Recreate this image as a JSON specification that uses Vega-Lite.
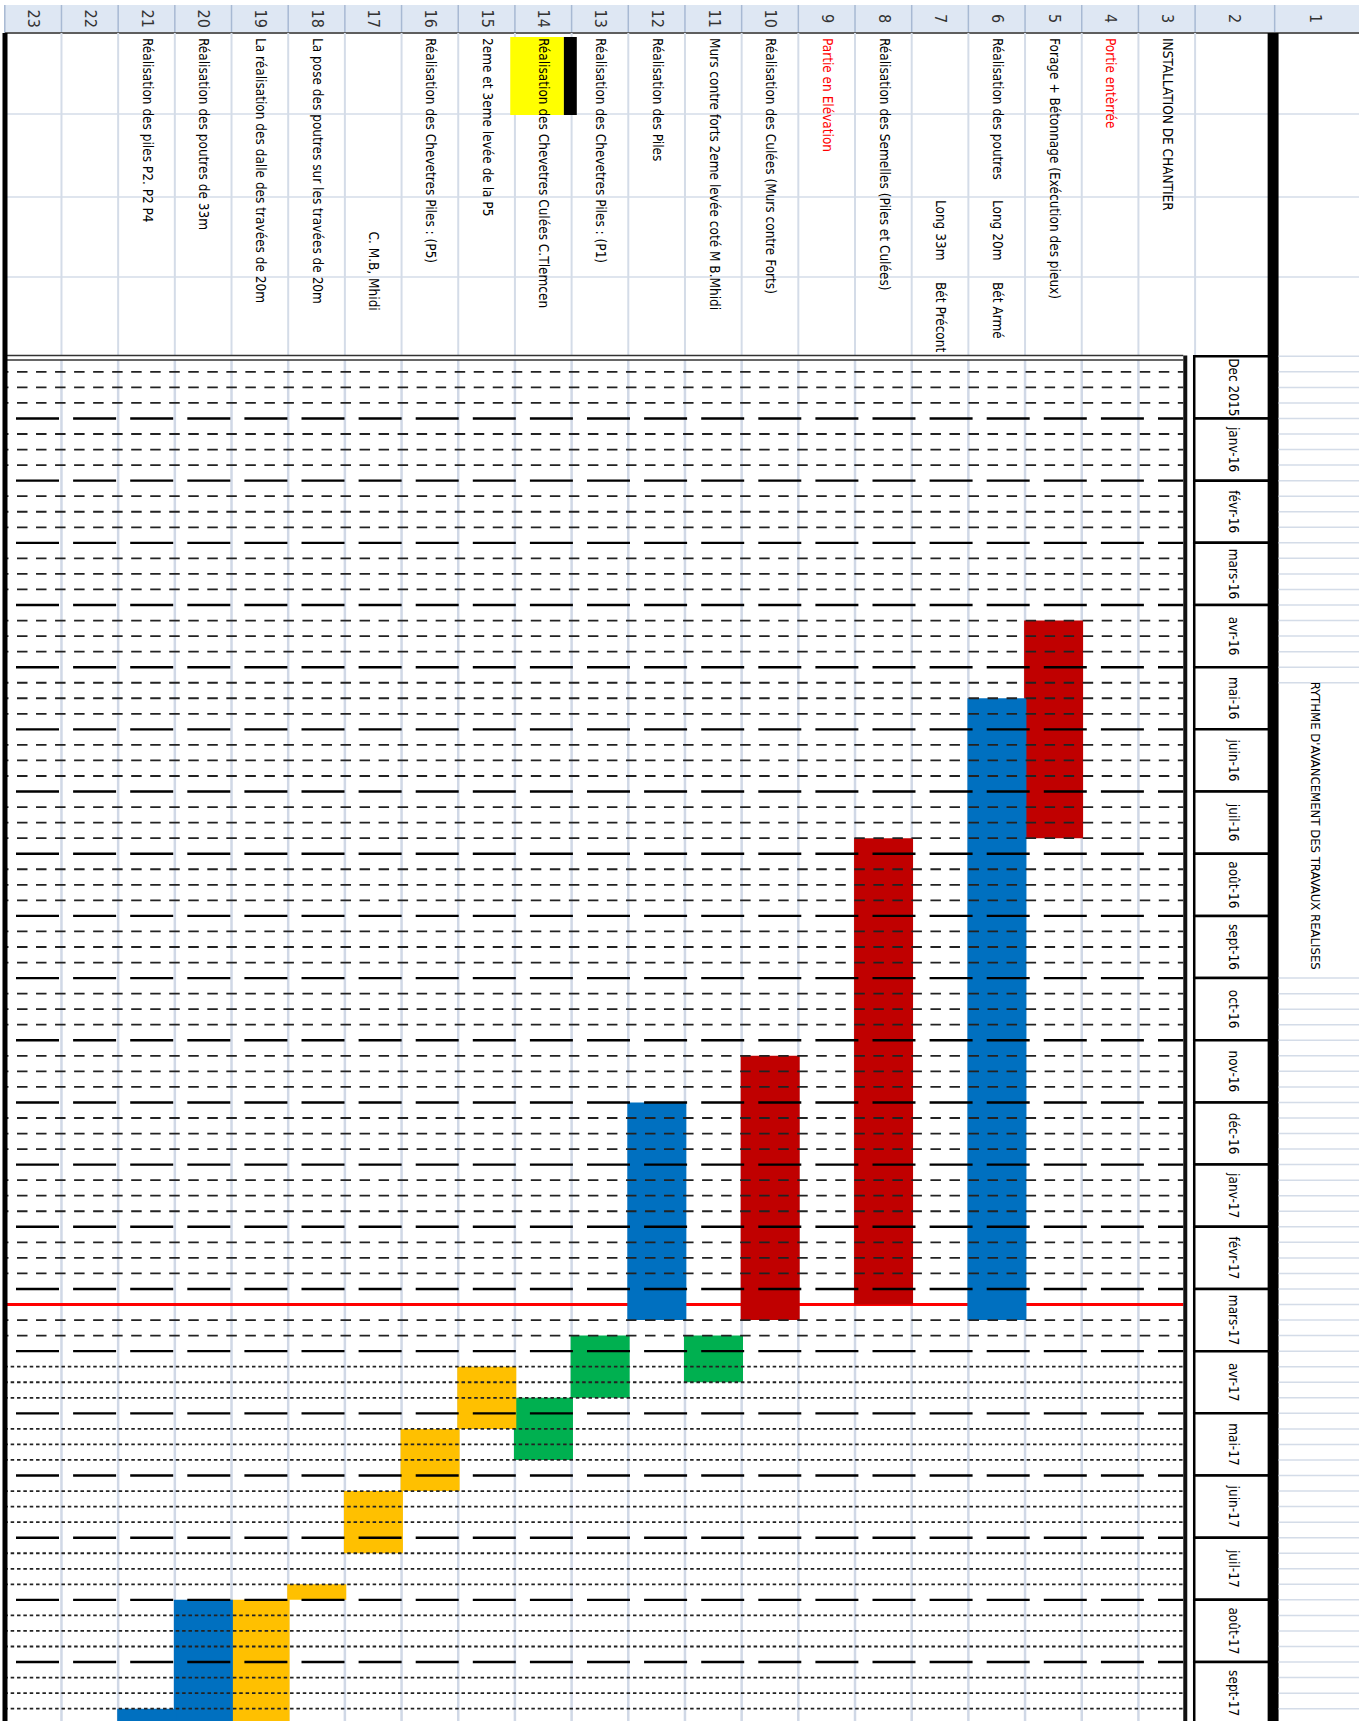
{
"$schema": "https://vega.github.io/schema/vega-lite/v6.json",
"width": 1364, "height": 1721, "autosize": {"type": "none"}, "padding": 0,
"background": "#ffffff",
"config": {"view": {"stroke": null}, "axis": {"disable": true}, "legend": {"disable": true},
  "text": {"font": "Liberation Sans Narrow, DejaVu Sans Condensed, sans-serif"}},
"resolve": {"scale": {"color": "independent"}},
"datasets": {
 "lignes": [{"row":1},{"row":2},{"row":3},{"row":4},{"row":5},{"row":6},{"row":7},{"row":8},{"row":9},{"row":10},{"row":11},{"row":12},{"row":13},{"row":14},{"row":15},{"row":16},{"row":17},{"row":18},{"row":19},{"row":20},{"row":21},{"row":22},{"row":23}],
 "taches": [
  {"row":3,"texte":"INSTALLATION DE CHANTIER","col":"A","niveau":"tache"},
  {"row":4,"texte":"Portie entèrrée","col":"A","niveau":"partie"},
  {"row":5,"texte":"Forage + Bétonnage (Exécution des pieux)","col":"A","niveau":"tache"},
  {"row":6,"texte":"Réalisation des poutres","col":"A","niveau":"tache"},
  {"row":6,"texte":"Long 20m","col":"C","niveau":"tache"},
  {"row":6,"texte":"Bét Armé","col":"D","niveau":"tache"},
  {"row":7,"texte":"Long 33m","col":"C","niveau":"tache"},
  {"row":7,"texte":"Bét Précont","col":"D","niveau":"tache"},
  {"row":8,"texte":"Réalisation des Semelles (Piles et Culées)","col":"A","niveau":"tache"},
  {"row":9,"texte":"Partie en Elévation","col":"A","niveau":"partie"},
  {"row":10,"texte":"Réalisation des Culées (Murs contre Forts)","col":"A","niveau":"tache"},
  {"row":11,"texte":"Murs contre forts 2eme levée coté M B.Mhidi","col":"A","niveau":"tache"},
  {"row":12,"texte":"Réalisation des Piles","col":"A","niveau":"tache"},
  {"row":13,"texte":"Réalisation des Chevetres Piles :  (P1)","col":"A","niveau":"tache"},
  {"row":14,"texte":"Réalisation des Chevetres Culées  C.Tlemcen","col":"A","niveau":"tache"},
  {"row":15,"texte":"2eme et 3eme levée de la P5","col":"A","niveau":"tache"},
  {"row":16,"texte":"Réalisation des Chevetres Piles :  (P5)","col":"A","niveau":"tache"},
  {"row":17,"texte":"C. M.B, Mhidi","col":"CD","niveau":"tache"},
  {"row":18,"texte":"La pose des poutres sur les travées de 20m","col":"A","niveau":"tache"},
  {"row":19,"texte":"La réalisation des dalle des travées de 20m","col":"A","niveau":"tache"},
  {"row":20,"texte":"Réalisation des poutres de 33m","col":"A","niveau":"tache"},
  {"row":21,"texte":"Réalisation des piles P2. P2 P4","col":"A","niveau":"tache"}
 ],
 "barres": [
  {"row":5,"debut":4.25,"fin":7.75,"serie":"s1"},
  {"row":6,"debut":5.5,"fin":15.5,"serie":"s2"},
  {"row":8,"debut":7.75,"fin":15.25,"serie":"s1"},
  {"row":10,"debut":11.25,"fin":15.5,"serie":"s1"},
  {"row":11,"debut":15.75,"fin":16.5,"serie":"s3"},
  {"row":12,"debut":12,"fin":15.5,"serie":"s2"},
  {"row":13,"debut":15.75,"fin":16.75,"serie":"s3"},
  {"row":14,"debut":16.75,"fin":17.75,"serie":"s3"},
  {"row":15,"debut":16.25,"fin":17.25,"serie":"s4"},
  {"row":16,"debut":17.25,"fin":18.25,"serie":"s4"},
  {"row":17,"debut":18.25,"fin":19.25,"serie":"s4"},
  {"row":18,"debut":19.75,"fin":20,"serie":"s4"},
  {"row":19,"debut":20,"fin":22,"serie":"s4"},
  {"row":20,"debut":20,"fin":22,"serie":"s2"},
  {"row":21,"debut":21.75,"fin":22,"serie":"s2"}
 ],
 "mois": [
  {"mois":"Dec 2015","debut":0,"fin":1},{"mois":"janv-16","debut":1,"fin":2},{"mois":"févr-16","debut":2,"fin":3},
  {"mois":"mars-16","debut":3,"fin":4},{"mois":"avr-16","debut":4,"fin":5},{"mois":"mai-16","debut":5,"fin":6},
  {"mois":"juin-16","debut":6,"fin":7},{"mois":"juil-16","debut":7,"fin":8},{"mois":"août-16","debut":8,"fin":9},
  {"mois":"sept-16","debut":9,"fin":10},{"mois":"oct-16","debut":10,"fin":11},{"mois":"nov-16","debut":11,"fin":12},
  {"mois":"déc-16","debut":12,"fin":13},{"mois":"janv-17","debut":13,"fin":14},{"mois":"févr-17","debut":14,"fin":15},
  {"mois":"mars-17","debut":15,"fin":16},{"mois":"avr-17","debut":16,"fin":17},{"mois":"mai-17","debut":17,"fin":18},
  {"mois":"juin-17","debut":18,"fin":19},{"mois":"juil-17","debut":19,"fin":20},{"mois":"août-17","debut":20,"fin":21},
  {"mois":"sept-17","debut":21,"fin":22}
 ]
},
"layer": [
 {"data":{"values":[{}]},"mark":{"type":"rect","fill":"#DEE7F3"},
  "encoding":{"x":{"datum":23.5,"type":"quantitative","scale":{"domain":[-0.388,23.5],"reverse":true,"nice":false,"zero":false}},"x2":{"datum":-0.388},
   "y":{"datum":-5.65,"type":"quantitative","scale":{"domain":[-5.73,21.948],"reverse":true,"nice":false,"zero":false}},"y2":{"datum":-5.2}}},
 {"data":{"name":"lignes"},"transform":[{"filter":"datum.row >= 2"}],"mark":{"type":"rule","stroke":"#A7B9D3","strokeWidth":1.5,"xOffset":-28.55},
  "encoding":{"x":{"field":"row","type":"quantitative","scale":{"domain":[-0.388,23.5],"reverse":true,"nice":false,"zero":false}},
   "y":{"datum":-5.65,"type":"quantitative","scale":{"domain":[-5.73,21.948],"reverse":true,"nice":false,"zero":false}},"y2":{"datum":-5.2}}},
 {"data":{"values":[{}]},"mark":{"type":"rule","stroke":"#A7B9D3","strokeWidth":1.5},
  "encoding":{"x":{"datum":1.1,"type":"quantitative","scale":{"domain":[-0.388,23.5],"reverse":true,"nice":false,"zero":false}},
   "y":{"datum":-5.65,"type":"quantitative","scale":{"domain":[-5.73,21.948],"reverse":true,"nice":false,"zero":false}},"y2":{"datum":-5.2}}},
 {"data":{"values":[{}]},"mark":{"type":"rule","stroke":"#5E5E5E","strokeWidth":2},
  "encoding":{"x":{"datum":23.5,"type":"quantitative","scale":{"domain":[-0.388,23.5],"reverse":true,"nice":false,"zero":false}},"x2":{"datum":-0.388},
   "y":{"datum":-5.2,"type":"quantitative","scale":{"domain":[-5.73,21.948],"reverse":true,"nice":false,"zero":false}}}},
 {"data":{"name":"lignes"},"transform":[{"filter":"datum.row >= 3"}],"mark":{"type":"text","angle":90,"align":"center","baseline":"middle","fontSize":16,"color":"#333333"},
  "encoding":{"x":{"field":"row","type":"quantitative","scale":{"domain":[-0.388,23.5],"reverse":true,"nice":false,"zero":false}},
   "y":{"datum":-5.43,"type":"quantitative","scale":{"domain":[-5.73,21.948],"reverse":true,"nice":false,"zero":false}},"text":{"field":"row","type":"nominal"}}},
 {"data":{"name":"lignes"},"transform":[{"filter":"datum.row == 2"}],"mark":{"type":"text","angle":90,"align":"center","baseline":"middle","fontSize":16,"color":"#333333","xOffset":10},
  "encoding":{"x":{"field":"row","type":"quantitative","scale":{"domain":[-0.388,23.5],"reverse":true,"nice":false,"zero":false}},
   "y":{"datum":-5.43,"type":"quantitative","scale":{"domain":[-5.73,21.948],"reverse":true,"nice":false,"zero":false}},"text":{"field":"row","type":"nominal"}}},
 {"data":{"name":"lignes"},"transform":[{"filter":"datum.row == 1"}],"mark":{"type":"text","angle":90,"align":"center","baseline":"middle","fontSize":16,"color":"#333333","xOffset":35},
  "encoding":{"x":{"field":"row","type":"quantitative","scale":{"domain":[-0.388,23.5],"reverse":true,"nice":false,"zero":false}},
   "y":{"datum":-5.43,"type":"quantitative","scale":{"domain":[-5.73,21.948],"reverse":true,"nice":false,"zero":false}},"text":{"field":"row","type":"nominal"}}},
 {"data":{"name":"lignes"},"transform":[{"filter":"datum.row >= 2"}],"mark":{"type":"rule","stroke":"#D4DCE8","strokeWidth":2,"xOffset":-28.55},
  "encoding":{"x":{"field":"row","type":"quantitative","scale":{"domain":[-0.388,23.5],"reverse":true,"nice":false,"zero":false}},
   "y":{"datum":-5.2,"type":"quantitative","scale":{"domain":[-5.73,21.948],"reverse":true,"nice":false,"zero":false}},"y2":{"datum":-0.013}}},
 {"data":{"values":[{}]},"mark":{"type":"rule","stroke":"#D4DCE8","strokeWidth":1.5},
  "encoding":{"x":{"datum":23.5,"type":"quantitative","scale":{"domain":[-0.388,23.5],"reverse":true,"nice":false,"zero":false}},"x2":{"datum":-0.388},
   "y":{"datum":-3.897,"type":"quantitative","scale":{"domain":[-5.73,21.948],"reverse":true,"nice":false,"zero":false}}}},
 {"data":{"values":[{}]},"mark":{"type":"rule","stroke":"#D4DCE8","strokeWidth":1.5},
  "encoding":{"x":{"datum":23.5,"type":"quantitative","scale":{"domain":[-0.388,23.5],"reverse":true,"nice":false,"zero":false}},"x2":{"datum":-0.388},
   "y":{"datum":-2.562,"type":"quantitative","scale":{"domain":[-5.73,21.948],"reverse":true,"nice":false,"zero":false}}}},
 {"data":{"values":[{}]},"mark":{"type":"rule","stroke":"#D4DCE8","strokeWidth":1.5},
  "encoding":{"x":{"datum":23.5,"type":"quantitative","scale":{"domain":[-0.388,23.5],"reverse":true,"nice":false,"zero":false}},"x2":{"datum":-0.388},
   "y":{"datum":-1.275,"type":"quantitative","scale":{"domain":[-5.73,21.948],"reverse":true,"nice":false,"zero":false}}}},
 {"data":{"values":[{}]},"mark":{"type":"rect","fill":"#FFFF00"},
  "encoding":{"x":{"datum":14.586,"type":"quantitative","scale":{"domain":[-0.388,23.5],"reverse":true,"nice":false,"zero":false}},"x2":{"datum":13.64},
   "y":{"datum":-5.135,"type":"quantitative","scale":{"domain":[-5.73,21.948],"reverse":true,"nice":false,"zero":false}},"y2":{"datum":-3.881}}},
 {"data":{"values":[{}]},"mark":{"type":"rect","fill":"#000000"},
  "encoding":{"x":{"datum":13.64,"type":"quantitative","scale":{"domain":[-0.388,23.5],"reverse":true,"nice":false,"zero":false}},"x2":{"datum":13.412},
   "y":{"datum":-5.135,"type":"quantitative","scale":{"domain":[-5.73,21.948],"reverse":true,"nice":false,"zero":false}},"y2":{"datum":-3.881}}},
 {"data":{"name":"taches"},"transform":[{"filter":"datum.col == 'A'"}],"mark":{"type":"text","angle":90,"align":"left","baseline":"middle","fontSize":13.5},
  "encoding":{"x":{"field":"row","type":"quantitative","scale":{"domain":[-0.388,23.5],"reverse":true,"nice":false,"zero":false}},
   "y":{"datum":-5.119,"type":"quantitative","scale":{"domain":[-5.73,21.948],"reverse":true,"nice":false,"zero":false}},
   "text":{"field":"texte","type":"nominal"},
   "color":{"field":"niveau","type":"nominal","scale":{"domain":["partie","tache"],"range":["#FF0000","#000000"]},"legend":null}}},
 {"data":{"name":"taches"},"transform":[{"filter":"datum.col == 'C'"}],"mark":{"type":"text","angle":90,"align":"left","baseline":"middle","fontSize":13.5},
  "encoding":{"x":{"field":"row","type":"quantitative","scale":{"domain":[-0.388,23.5],"reverse":true,"nice":false,"zero":false}},
   "y":{"datum":-2.514,"type":"quantitative","scale":{"domain":[-5.73,21.948],"reverse":true,"nice":false,"zero":false}},
   "text":{"field":"texte","type":"nominal"},
   "color":{"field":"niveau","type":"nominal","scale":{"domain":["partie","tache"],"range":["#FF0000","#000000"]},"legend":null}}},
 {"data":{"name":"taches"},"transform":[{"filter":"datum.col == 'D'"}],"mark":{"type":"text","angle":90,"align":"left","baseline":"middle","fontSize":13.5},
  "encoding":{"x":{"field":"row","type":"quantitative","scale":{"domain":[-0.388,23.5],"reverse":true,"nice":false,"zero":false}},
   "y":{"datum":-1.195,"type":"quantitative","scale":{"domain":[-5.73,21.948],"reverse":true,"nice":false,"zero":false}},
   "text":{"field":"texte","type":"nominal"},
   "color":{"field":"niveau","type":"nominal","scale":{"domain":["partie","tache"],"range":["#FF0000","#000000"]},"legend":null}}},
 {"data":{"name":"taches"},"transform":[{"filter":"datum.col == 'CD'"}],"mark":{"type":"text","angle":90,"align":"center","baseline":"middle","fontSize":13.5},
  "encoding":{"x":{"field":"row","type":"quantitative","scale":{"domain":[-0.388,23.5],"reverse":true,"nice":false,"zero":false}},
   "y":{"datum":-1.37,"type":"quantitative","scale":{"domain":[-5.73,21.948],"reverse":true,"nice":false,"zero":false}},
   "text":{"field":"texte","type":"nominal"},
   "color":{"field":"niveau","type":"nominal","scale":{"domain":["partie","tache"],"range":["#FF0000","#000000"]},"legend":null}}},
 {"data":{"name":"lignes"},"transform":[{"filter":"datum.row >= 2"}],"mark":{"type":"rule","stroke":"#D0D8E6","strokeWidth":2.5,"xOffset":-28.55},
  "encoding":{"x":{"field":"row","type":"quantitative","scale":{"domain":[-0.388,23.5],"reverse":true,"nice":false,"zero":false}},
   "y":{"datum":0.06,"type":"quantitative","scale":{"domain":[-5.73,21.948],"reverse":true,"nice":false,"zero":false}},"y2":{"datum":22.2}}},
 {"data":{"values":[{}]},"mark":{"type":"rule","stroke":"#FF0000","strokeWidth":3},
  "encoding":{"x":{"datum":23.5,"type":"quantitative","scale":{"domain":[-0.388,23.5],"reverse":true,"nice":false,"zero":false}},"x2":{"datum":2.712},
   "y":{"datum":15.25,"type":"quantitative","scale":{"domain":[-5.73,21.948],"reverse":true,"nice":false,"zero":false}}}},
 {"data":{"name":"barres"},"mark":{"type":"bar","width":59,"orient":"vertical"},
  "encoding":{"x":{"field":"row","type":"quantitative","scale":{"domain":[-0.388,23.5],"reverse":true,"nice":false,"zero":false}},
   "y":{"field":"debut","type":"quantitative","scale":{"domain":[-5.73,21.948],"reverse":true,"nice":false,"zero":false}},"y2":{"field":"fin"},
   "color":{"field":"serie","type":"nominal","scale":{"domain":["s1","s2","s3","s4"],"range":["#C00000","#0070C0","#00B050","#FFC000"]},"legend":null}}},
 {"data":{"name":"mois"},"transform":[{"filter":"datum.debut > 0"}],"mark":{"type":"rule","stroke":"#000000","strokeWidth":2.4,"strokeDash":[43,14.1],"strokeDashOffset":46.1},
  "encoding":{"x":{"datum":23.5,"type":"quantitative","scale":{"domain":[-0.388,23.5],"reverse":true,"nice":false,"zero":false}},"x2":{"datum":2.712},
   "y":{"field":"debut","type":"quantitative","scale":{"domain":[-5.73,21.948],"reverse":true,"nice":false,"zero":false}}}},
 {"data":{"name":"mois"},"transform":[{"filter":"datum.debut != 15"}],"mark":{"type":"rule","stroke":"#222222","strokeWidth":1.8,"strokeDashOffset":7.03,"yOffset":15.545},
  "encoding":{"x":{"datum":23.5,"type":"quantitative","scale":{"domain":[-0.388,23.5],"reverse":true,"nice":false,"zero":false}},"x2":{"datum":2.712},
   "y":{"field":"debut","type":"quantitative","scale":{"domain":[-5.73,21.948],"reverse":true,"nice":false,"zero":false}},
   "strokeDash":{"condition":{"test":"datum.debut >= 16","value":[3.5,2.85]},"value":[10.5,8.53]}}},
 {"data":{"name":"mois"},"mark":{"type":"rule","stroke":"#222222","strokeWidth":1.8,"strokeDashOffset":7.03,"yOffset":31.09},
  "encoding":{"x":{"datum":23.5,"type":"quantitative","scale":{"domain":[-0.388,23.5],"reverse":true,"nice":false,"zero":false}},"x2":{"datum":2.712},
   "y":{"field":"debut","type":"quantitative","scale":{"domain":[-5.73,21.948],"reverse":true,"nice":false,"zero":false}},
   "strokeDash":{"condition":{"test":"datum.debut >= 16","value":[3.5,2.85]},"value":[10.5,8.53]}}},
 {"data":{"name":"mois"},"mark":{"type":"rule","stroke":"#222222","strokeWidth":1.8,"strokeDashOffset":7.03,"yOffset":46.635},
  "encoding":{"x":{"datum":23.5,"type":"quantitative","scale":{"domain":[-0.388,23.5],"reverse":true,"nice":false,"zero":false}},"x2":{"datum":2.712},
   "y":{"field":"debut","type":"quantitative","scale":{"domain":[-5.73,21.948],"reverse":true,"nice":false,"zero":false}},
   "strokeDash":{"condition":{"test":"datum.debut >= 16","value":[3.5,2.85]},"value":[10.5,8.53]}}},
 {"data":{"values":[{}]},"mark":{"type":"rule","stroke":"#333333","strokeWidth":1.5},
  "encoding":{"x":{"datum":23.5,"type":"quantitative","scale":{"domain":[-0.388,23.5],"reverse":true,"nice":false,"zero":false}},"x2":{"datum":2.712},
   "y":{"datum":-0.013,"type":"quantitative","scale":{"domain":[-5.73,21.948],"reverse":true,"nice":false,"zero":false}}}},
 {"data":{"values":[{}]},"mark":{"type":"rule","stroke":"#333333","strokeWidth":1.5},
  "encoding":{"x":{"datum":23.5,"type":"quantitative","scale":{"domain":[-0.388,23.5],"reverse":true,"nice":false,"zero":false}},"x2":{"datum":2.712},
   "y":{"datum":0.06,"type":"quantitative","scale":{"domain":[-5.73,21.948],"reverse":true,"nice":false,"zero":false}}}},
 {"data":{"values":[{}]},"mark":{"type":"rule","stroke":"#111111","strokeWidth":4},
  "encoding":{"x":{"datum":2.677,"type":"quantitative","scale":{"domain":[-0.388,23.5],"reverse":true,"nice":false,"zero":false}},
   "y":{"datum":-0.013,"type":"quantitative","scale":{"domain":[-5.73,21.948],"reverse":true,"nice":false,"zero":false}},"y2":{"datum":22.2}}},
 {"data":{"name":"mois"},"mark":{"type":"rect","fill":"#FFFFFF","stroke":"#000000","strokeWidth":2.5},
  "encoding":{"x":{"datum":2.519,"type":"quantitative","scale":{"domain":[-0.388,23.5],"reverse":true,"nice":false,"zero":false}},"x2":{"datum":1.136},
   "y":{"field":"debut","type":"quantitative","scale":{"domain":[-5.73,21.948],"reverse":true,"nice":false,"zero":false}},"y2":{"field":"fin"}}},
 {"data":{"name":"mois"},"mark":{"type":"text","angle":90,"align":"center","baseline":"middle","fontSize":13.5,"color":"#000000","yOffset":31.09},
  "encoding":{"x":{"datum":1.836,"type":"quantitative","scale":{"domain":[-0.388,23.5],"reverse":true,"nice":false,"zero":false}},
   "y":{"field":"debut","type":"quantitative","scale":{"domain":[-5.73,21.948],"reverse":true,"nice":false,"zero":false}},
   "text":{"field":"mois","type":"nominal"}}},
 {"data":{"values":[{}]},"mark":{"type":"rect","fill":"#000000"},
  "encoding":{"x":{"datum":1.224,"type":"quantitative","scale":{"domain":[-0.388,23.5],"reverse":true,"nice":false,"zero":false}},"x2":{"datum":1.031},
   "y":{"datum":-5.2,"type":"quantitative","scale":{"domain":[-5.73,21.948],"reverse":true,"nice":false,"zero":false}},"y2":{"datum":22.2}}},
 {"data":{"name":"mois"},"transform":[{"filter":"datum.debut < 6 || datum.debut > 9"}],"mark":{"type":"rule","stroke":"#D4DCE8","strokeWidth":1.5},
  "encoding":{"x":{"datum":1.031,"type":"quantitative","scale":{"domain":[-0.388,23.5],"reverse":true,"nice":false,"zero":false}},"x2":{"datum":-0.388},
   "y":{"field":"debut","type":"quantitative","scale":{"domain":[-5.73,21.948],"reverse":true,"nice":false,"zero":false}}}},
 {"data":{"name":"mois"},"transform":[{"filter":"datum.debut < 6 || datum.debut > 9"}],"mark":{"type":"rule","stroke":"#D4DCE8","strokeWidth":1.5,"yOffset":15.545},
  "encoding":{"x":{"datum":1.031,"type":"quantitative","scale":{"domain":[-0.388,23.5],"reverse":true,"nice":false,"zero":false}},"x2":{"datum":-0.388},
   "y":{"field":"debut","type":"quantitative","scale":{"domain":[-5.73,21.948],"reverse":true,"nice":false,"zero":false}}}},
 {"data":{"name":"mois"},"transform":[{"filter":"datum.debut < 5 || datum.debut > 9"}],"mark":{"type":"rule","stroke":"#D4DCE8","strokeWidth":1.5,"yOffset":31.09},
  "encoding":{"x":{"datum":1.031,"type":"quantitative","scale":{"domain":[-0.388,23.5],"reverse":true,"nice":false,"zero":false}},"x2":{"datum":-0.388},
   "y":{"field":"debut","type":"quantitative","scale":{"domain":[-5.73,21.948],"reverse":true,"nice":false,"zero":false}}}},
 {"data":{"name":"mois"},"transform":[{"filter":"datum.debut < 5 || datum.debut > 9"}],"mark":{"type":"rule","stroke":"#D4DCE8","strokeWidth":1.5,"yOffset":46.635},
  "encoding":{"x":{"datum":1.031,"type":"quantitative","scale":{"domain":[-0.388,23.5],"reverse":true,"nice":false,"zero":false}},"x2":{"datum":-0.388},
   "y":{"field":"debut","type":"quantitative","scale":{"domain":[-5.73,21.948],"reverse":true,"nice":false,"zero":false}}}},
 {"data":{"values":[{"titre":"RYTHME D'AVANCEMENT DES TRAVAUX REALISES"}]},"mark":{"type":"text","angle":90,"align":"center","baseline":"middle","fontSize":13,"color":"#000000"},
  "encoding":{"x":{"datum":0.383,"type":"quantitative","scale":{"domain":[-0.388,23.5],"reverse":true,"nice":false,"zero":false}},
   "y":{"datum":7.55,"type":"quantitative","scale":{"domain":[-5.73,21.948],"reverse":true,"nice":false,"zero":false}},
   "text":{"field":"titre","type":"nominal"}}},
 {"data":{"values":[{}]},"mark":{"type":"rule","stroke":"#000000","strokeWidth":5},
  "encoding":{"x":{"datum":23.5,"type":"quantitative","scale":{"domain":[-0.388,23.5],"reverse":true,"nice":false,"zero":false}},
   "y":{"datum":-5.2,"type":"quantitative","scale":{"domain":[-5.73,21.948],"reverse":true,"nice":false,"zero":false}},"y2":{"datum":22.2}}}
]
}
